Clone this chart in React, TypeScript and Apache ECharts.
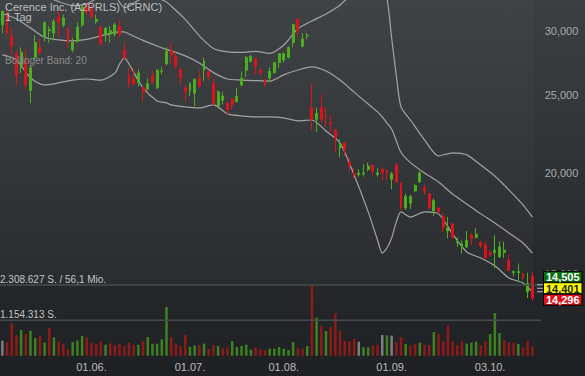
import React, { useEffect, useRef } from "react";
import * as echarts from "echarts";

const FONT = '"Liberation Sans", Arial, Helvetica, sans-serif';

const titleText = "Cerence Inc. (A2PRLS) (CRNC)";
const periodText = "1 Tag";
const indicatorText = "Bollinger Band: 20";
const volumeMaxText = "2.308.627 S. / 56,1 Mio.";
const volumeHalfText = "1.154.313 S.";

// daily candles (EUR)
const openP = [
  30.5, 31.6, 29.5, 28.1, 27.2, 27.6, 25.3, 27.8, 28.6, 29.5,
  30.0, 29.8, 31.2, 30.5, 30.2, 28.4, 29.1, 30.5, 32.2, 32.0,
  30.8, 30.3, 29.7, 29.7, 29.7, 30.4, 28.4, 26.4, 26.2, 25.9,
  25.5, 25.4, 26.4, 25.5, 26.7, 27.3, 28.3, 27.9, 26.9, 25.5,
  25.3, 25.1, 26.2, 26.8, 26.7, 25.8, 24.2, 24.6, 24.4, 24.7,
  24.5, 25.7, 26.8, 27.5, 27.7, 26.8, 26.1, 26.2, 26.6, 27.4,
  27.6, 27.8, 29.0, 31.0, 28.7, 29.55, 24.1, 23.3, 24.1, 23.6,
  23.1, 22.6, 21.5, 21.8, 20.6, 19.95, 19.9, 19.95, 20.2, 20.45,
  19.9, 20.2, 20.1, 19.65, 20.45, 19.45, 18.1, 18.35, 19.0, 19.5,
  19.15, 18.85, 17.95, 18.1, 17.65, 16.95, 17.3, 16.4, 16.15, 16.2,
  16.75, 16.65, 16.4, 16.3, 15.95, 15.95, 15.75, 15.95, 15.6, 15.05,
  15.05, 15.0, 14.25, 14.9,
];
const closeP = [
  31.7, 29.8, 28.7, 26.4, 28.2, 25.7, 27.0, 29.0, 28.2, 30.7,
  30.1, 30.8, 30.7, 31.1, 29.0, 29.0, 30.3, 32.1, 31.6, 31.2,
  31.0, 28.9, 30.2, 30.0, 30.5, 29.7, 27.8, 25.8, 25.8, 26.6,
  25.2, 25.8, 25.9, 26.8, 26.75, 28.3, 28.0, 27.1, 26.2, 25.2,
  25.8, 26.1, 25.6, 27.5, 26.3, 24.4, 25.2, 24.9, 23.95, 24.3,
  24.9, 26.2, 27.8, 27.9, 27.1, 26.6, 25.7, 26.7, 27.4, 28.1,
  28.1, 28.6, 30.5, 30.0, 29.3, 29.6, 23.3, 23.7, 23.3, 23.5,
  23.0, 22.1, 21.7, 21.4, 20.45, 19.9, 20.0, 20.0, 20.4, 20.1,
  20.0, 20.0, 20.0, 19.95, 19.5, 18.15, 18.7, 18.7, 19.3, 20.0,
  19.0, 18.1, 18.5, 17.9, 17.1, 17.1, 16.65, 16.45, 16.35, 16.5,
  16.6, 16.8, 16.25, 15.7, 15.85, 16.05, 16.2, 16.05, 15.15, 15.1,
  15.1, 14.85, 14.6, 14.0,
];
const lowP = [
  29.8, 29.6, 28.0, 25.6, 26.6, 25.4, 24.4, 27.6, 28.0, 29.1,
  29.0, 29.2, 29.5, 30.3, 28.6, 28.2, 29.0, 30.3, 31.4, 31.1,
  30.6, 28.8, 29.1, 29.0, 29.5, 29.4, 27.6, 25.5, 25.6, 25.6,
  24.5, 25.3, 25.8, 25.4, 26.5, 27.2, 27.3, 26.9, 25.7, 24.5,
  24.9, 24.2, 25.5, 26.0, 26.1, 24.2, 24.2, 24.3, 23.6, 23.95,
  24.5, 25.6, 26.3, 27.4, 26.5, 26.4, 25.6, 25.9, 26.6, 27.0,
  27.4, 27.7, 28.6, 29.5, 28.6, 29.3, 22.6, 22.5, 23.1, 22.8,
  22.5, 21.2, 20.9, 21.0, 20.1, 19.7, 19.8, 19.8, 20.1, 19.9,
  19.8, 19.55, 19.6, 19.1, 19.45, 18.0, 18.0, 18.05, 18.95, 19.45,
  18.8, 18.05, 17.7, 17.85, 16.9, 16.6, 16.6, 16.2, 15.9, 16.15,
  16.3, 16.6, 16.15, 15.7, 15.75, 15.25, 15.7, 15.7, 15.15, 14.9,
  14.65, 14.75, 14.0, 13.9,
];
const highP = [
  31.8, 31.7, 30.3, 28.4, 28.6, 28.4, 27.2, 29.6, 29.3, 30.8,
  30.4, 31.0, 31.8, 31.4, 30.3, 29.4, 30.7, 32.3, 32.5, 32.3,
  31.4, 30.4, 30.3, 30.4, 30.7, 31.0, 29.0, 27.0, 26.9, 26.9,
  25.6, 26.2, 26.8, 26.9, 27.1, 28.6, 29.0, 28.2, 26.9, 25.7,
  25.9, 26.2, 26.8, 27.8, 26.8, 26.2, 25.3, 25.2, 24.5, 24.7,
  25.5, 26.7, 27.9, 28.0, 27.8, 27.0, 26.1, 27.0, 27.45, 28.15,
  28.2, 28.7, 30.6, 31.05, 29.8, 29.8, 25.8, 24.1, 25.0, 24.1,
  23.6, 22.65, 22.0, 21.85, 20.9, 20.3, 20.2, 20.5, 20.6, 20.5,
  20.3, 20.3, 20.2, 20.05, 20.6, 19.5, 18.85, 18.8, 19.4, 20.1,
  19.35, 18.9, 18.6, 18.15, 17.85, 17.65, 17.35, 16.65, 16.5, 16.95,
  16.85, 17.1, 16.5, 16.45, 16.05, 16.75, 16.45, 16.45, 15.85, 15.15,
  15.45, 15.05, 15.05, 15.1,
];

// volume in thousand shares
const volumeK = [
  490, 446, 1056, 664, 838, 708, 817, 577, 653, 425,
  904, 599, 457, 392, 218, 446, 501, 642, 599, 414,
  381, 457, 359, 403, 348, 381, 316, 414, 359, 359,
  479, 610, 381, 392, 534, 1590, 599, 392, 316, 675,
  294, 338, 348, 392, 218, 348, 316, 240, 272, 479,
  283, 316, 359, 196, 272, 218, 185, 229, 229, 283,
  229, 185, 446, 250, 229, 316, 2308.627, 1241, 980, 806,
  937, 1383, 806, 479, 479, 545, 457, 283, 272, 327,
  359, 675, 664, 653, 446, 610, 381, 338, 381, 425,
  348, 359, 773, 708, 457, 980, 457, 348, 490, 392,
  425, 457, 348, 479, 708, 1394, 740, 501, 436, 425,
  381, 272, 479, 283,
];
// u = up, d = down, n = unchanged
const volumeDir = (
  "n d d d u d u u d u " +
  "d u d d d u u u d d " +
  "d d u d d d d d d u " +
  "d u u u u u d d d d " +
  "u u d u d d u d d u " +
  "u u u u d d d u u u " +
  "u u u d d u d u d u " +
  "d d d d d d n u u d " +
  "d n u n d d u d d u " +
  "d d u d d d d d d u " +
  "u u d d u u u d d d " +
  "u d d d"
).split(" ").filter(Boolean);

const tickIndex = [19, 40, 60, 83, 104];
const tickText = ["01.06.", "01.07.", "01.08.", "01.09.", "03.10."];
const priceTicks = [15, 20, 25, 30];

// Bollinger band (20) read at these candle positions
const bandIndex = [0, 3, 6, 9, 12, 15, 18, 21, 24, 25, 26, 27, 30, 33, 35, 36, 39, 42, 45, 48, 51, 54, 57, 60, 63, 66, 69, 72, 75, 78, 80, 81, 82, 83, 84, 85, 87, 90, 93, 96, 99, 102, 105, 108, 111, 113];
const bandUpper = [35.0, 34.44, 34.26, 33.18, 32.59, 32.22, 32.38, 33.06, 33.13, 32.52, 32.04, 32.16, 32.88, 32.88, 32.56, 32.18, 30.98, 29.56, 28.52, 28.24, 28.2, 28.28, 28.12, 28.8, 30.16, 30.84, 31.46, 32.28, 33.5, 34.0, 33.8, 33.5, 32.9, 29.4, 26.37, 24.14, 23.26, 21.98, 21.0, 21.18, 21.06, 20.46, 19.83, 19.06, 18.26, 17.64];
const bandMiddle = [31.5, 31.02, 30.24, 29.44, 29.22, 29.14, 29.26, 29.56, 29.86, 29.9, 29.9, 29.72, 29.18, 28.72, 28.44, 28.32, 27.92, 27.36, 26.62, 26.14, 26.06, 26.02, 25.99, 26.45, 26.82, 27.06, 26.74, 26.06, 25.18, 24.34, 23.8, 23.46, 23.06, 22.67, 21.91, 21.2, 20.6, 20.0, 19.49, 18.84, 18.31, 17.8, 17.34, 16.86, 16.38, 15.92];
const bandLower = [28.0, 27.6, 26.22, 25.7, 25.85, 26.06, 26.14, 26.06, 26.59, 27.28, 27.76, 27.28, 25.48, 24.56, 24.42, 24.28, 24.14, 24.07, 24.28, 23.67, 23.53, 23.46, 23.46, 23.4, 23.2, 23.26, 22.54, 21.78, 19.89, 17.9, 16.52, 15.92, 16.15, 16.62, 17.4, 17.9, 17.64, 17.9, 17.8, 16.81, 15.97, 15.7, 15.35, 14.83, 14.62, 14.25];

const quoteAsk = 14.505;
const quoteLast = 14.401;
const quoteBid = 14.296;

const UP = "#4cae1f";
const DOWN = "#d9141c";
const VOL_UP = "#3d8120";
const VOL_DOWN = "#8e1a1a";
const VOL_FLAT = "#7e7e7e";
const BAND = "#a2a2a2";

const fmtPrice = (v: number) => v.toFixed(3).replace(".", ",");

export default function App() {
  const ref = useRef<HTMLDivElement>(null);

  useEffect(() => {
    const el = ref.current;
    if (!el) return;
    const chart = echarts.init(el, null, { renderer: "svg" });
    const cats = openP.map((_, i) => String(i));
    const volMax = Math.max(...volumeK) * 1000;
    const bandSeries = (vals: number[]) => ({
      type: "line",
      xAxisIndex: 0,
      yAxisIndex: 0,
      data: bandIndex.map((ix, k) => [ix, vals[k]]),
      symbol: "none",
      smooth: 0.25,
      clip: true,
      silent: true,
      lineStyle: { color: BAND, width: 1.2 },
      z: 1,
    });

    chart.setOption({
      animation: false,
      backgroundColor: "transparent",
      textStyle: { fontFamily: FONT },
      grid: [
        { left: 0, top: 0, width: 534.7, height: 303.2, show: false },
        { left: 0, top: 285, width: 534.7, height: 70.7, show: false },
      ],
      xAxis: [
        {
          type: "category",
          gridIndex: 0,
          data: cats,
          boundaryGap: true,
          axisLine: { show: false },
          axisTick: { show: false },
          axisLabel: { show: false },
          splitLine: { show: false },
        },
        {
          type: "category",
          gridIndex: 1,
          data: cats,
          boundaryGap: true,
          axisLine: { show: false },
          axisTick: { show: false },
          splitLine: { show: false },
          axisLabel: {
            interval: (index: number) => tickIndex.includes(index),
            formatter: (_v: string, index: number) => {
              const k = tickIndex.indexOf(index);
              return k >= 0 ? tickText[k] : "";
            },
            color: "#bdbdbd",
            fontSize: 11,
            fontFamily: FONT,
            margin: 6,
          },
        },
      ],
      yAxis: [
        {
          type: "log",
          logBase: 10,
          gridIndex: 0,
          min: 13.8,
          max: 32.74,
          position: "right",
          axisLine: { show: false },
          axisTick: { show: false },
          splitLine: { show: false },
          axisLabel: {
            customValues: priceTicks,
            formatter: (v: number) => fmtPrice(v),
            color: "#a9a9a9",
            fontSize: 11,
            fontFamily: FONT,
            margin: 10,
          },
        },
        {
          type: "value",
          gridIndex: 1,
          min: 0,
          max: volMax,
          show: false,
          splitLine: { show: false },
        },
      ],
      series: [
        bandSeries(bandUpper),
        bandSeries(bandMiddle),
        bandSeries(bandLower),
        {
          type: "candlestick",
          xAxisIndex: 0,
          yAxisIndex: 0,
          barWidth: 2.4,
          data: openP.map((o, i) => [o, closeP[i], lowP[i], highP[i]]),
          itemStyle: {
            color: UP,
            color0: DOWN,
            borderColor: UP,
            borderColor0: DOWN,
            borderWidth: 1,
          },
          z: 3,
        },
        {
          type: "bar",
          xAxisIndex: 1,
          yAxisIndex: 1,
          barWidth: 2.5,
          data: volumeK.map((v, i) => ({
            value: v * 1000,
            itemStyle: {
              color: volumeDir[i] === "u" ? VOL_UP : volumeDir[i] === "d" ? VOL_DOWN : VOL_FLAT,
            },
          })),
        },
      ],
    });

    const yLast = chart.convertToPixel({ yAxisIndex: 0 }, quoteLast) as number;
    const yVolMax = chart.convertToPixel({ yAxisIndex: 1 }, volMax) as number;
    const yVolHalf = chart.convertToPixel({ yAxisIndex: 1 }, volMax / 2) as number;

    const badge = (val: number, cy: number, fill: string, textFill: string) => [
      {
        type: "rect",
        shape: { x: 543.5, y: cy - 5.5, width: 38.5, height: 11 },
        style: { fill, stroke: "#000", lineWidth: 1 },
        z: 20,
      },
      {
        type: "text",
        x: 562.75,
        y: cy + 0.5,
        style: {
          text: fmtPrice(val),
          fill: textFill,
          fontSize: 11,
          fontWeight: "bold",
          fontFamily: FONT,
          lineHeight: 10,
          align: "center",
          verticalAlign: "middle",
          textAlign: "center",
          textVerticalAlign: "middle",
        },
        z: 21,
      },
    ];

    const txt = (text: string, x: number, y: number, size: number, fill: string) => ({
      type: "text",
      x,
      y,
      style: {
        text,
        fill,
        fontSize: size,
        lineHeight: size - 1,
        fontFamily: FONT,
        align: "left",
        verticalAlign: "top",
        textAlign: "left",
        textVerticalAlign: "top",
      },
      z: 15,
    });

    chart.setOption({
      graphic: [
        {
          type: "rect",
          shape: { x: 0, y: 0, width: 533, height: yVolMax },
          style: { fill: "rgba(255,255,255,0.025)" },
          silent: true,
          z: -10,
        },
        {
          type: "line",
          shape: { x1: 0, y1: yVolMax, x2: 541, y2: yVolMax },
          style: { stroke: "#484b4e", lineWidth: 1.5 },
          z: 5,
        },
        {
          type: "line",
          shape: { x1: 0, y1: yVolHalf, x2: 541, y2: yVolHalf },
          style: { stroke: "#484b4e", lineWidth: 1.5 },
          z: 5,
        },
        txt(titleText + "\n" + periodText, 5, 1.75, 11, "#bdbdbd"),
        txt(indicatorText, 5, 56, 10, "#8c8c8c"),
        txt(volumeMaxText, 0, yVolMax - 10.5, 10, "#c4c4c4"),
        txt(volumeHalfText, 0, yVolHalf - 10.5, 10, "#c4c4c4"),
        ...[-3.5, 0, 3.5].map((d) => ({
          type: "line",
          shape: { x1: 537, y1: yLast + d, x2: 543, y2: yLast + d },
          style: { stroke: "#bbbbbb", lineWidth: 1 },
          z: 19,
        })),
        ...badge(quoteAsk, yLast - 11.5, "#0b6e12", "#ffffff"),
        ...badge(quoteLast, yLast, "#ffff00", "#222222"),
        ...badge(quoteBid, yLast + 11.5, "#e2101c", "#ffffff"),
      ],
    });

    return () => chart.dispose();
  }, []);

  return (
    <div
      ref={ref}
      style={{
        position: "absolute",
        left: 0,
        top: 0,
        width: 585,
        height: 376,
        background: "linear-gradient(180deg, #3c3f42 0%, #313437 40%, #26292c 72%, #1e2023 100%)",
      }}
    />
  );
}
